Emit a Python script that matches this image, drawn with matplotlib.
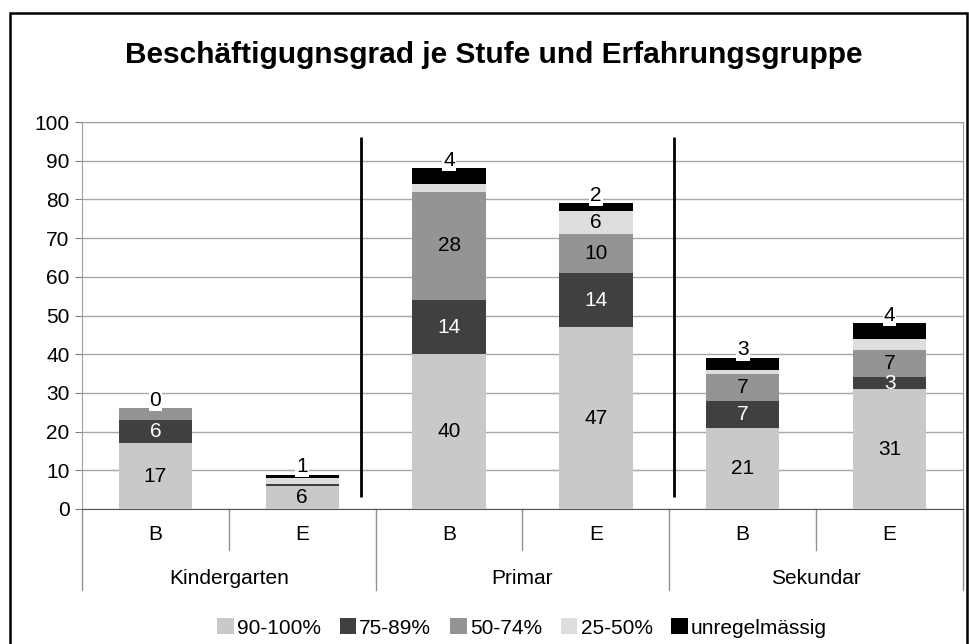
import matplotlib
matplotlib.use("Agg")
import matplotlib.pyplot as plt
import matplotlib.transforms as mtransforms
from matplotlib.patches import Rectangle
import numpy as np

plt.rcParams['font.family'] = ['Liberation Sans', 'DejaVu Sans']

# Daten
stufen = ['Kindergarten', 'Primar', 'Sekundar']
gruppen = ['B', 'E', 'B', 'E', 'B', 'E']
serien = ['90-100%', '75-89%', '50-74%', '25-50%', 'unregelmässig']
s_90_100 = [17, 6, 40, 47, 21, 31]
s_75_89 = [6, 0.4, 14, 14, 7, 3]
s_50_74 = [3, 0, 28, 10, 7, 7]
s_25_50 = [0, 1.6, 2, 6, 1, 3]
s_unreg = [0, 0.8, 4, 2, 3, 4]
farben = ['#c9c9c9', '#404040', '#949494', '#dedede', '#000000']
textfarben = ['black', 'white', 'black', 'black', 'black']
# ab welchem Wert eine Beschriftung im Segment steht
schwellen = [3, 3, 5, 5, 0]

werte = [s_90_100, s_75_89, s_50_74, s_25_50, s_unreg]
fs = 15

fig = plt.figure(figsize=(9.69, 6.44), dpi=100)
ax = fig.add_axes([82/969, (644-509)/644, (963-82)/969, (509-122)/644])

x = np.arange(len(gruppen))
unten = np.zeros(len(gruppen))
for i, (name, w) in enumerate(zip(serien, werte)):
    w = np.array(w, dtype=float)
    ax.bar(x, w, 0.5, bottom=unten, color=farben[i], label=name, zorder=3)
    for xi, b, v in zip(x, unten, w):
        if i == len(serien) - 1:
            # Oberste Beschriftung über dem Balken
            ax.annotate(f"{v:.0f}", (xi, b + v), xytext=(0, -1), textcoords='offset points',
                        ha='center', va='bottom', fontsize=fs, zorder=5,
                        bbox=dict(boxstyle='square,pad=0.05', fc='white', ec='none'))
        elif v >= schwellen[i]:
            ax.text(xi, b + v / 2, f"{v:.0f}", ha='center', va='center',
                    fontsize=fs, color=textfarben[i], zorder=4)
    unten += w

# Trennlinien zwischen den Stufen
ax.vlines([1.4, 3.53], 3, 96, color='black', lw=2, zorder=4)

ax.set_xlim(-0.5, 5.5)
ax.set_ylim(0, 100)
ax.set_yticks(range(0, 101, 10))
ax.tick_params(axis='y', labelsize=fs, length=5, color='#808080', pad=4)
ax.yaxis.grid(True, color='#a8a8a8', lw=1, zorder=0)
ax.set_xticks([])
for s in ['left', 'right', 'top']:
    ax.spines[s].set_color('#a0a0a0')
ax.spines['bottom'].set_color('#555555')

# Kategorienachse mit zwei Ebenen
trans = mtransforms.blended_transform_factory(ax.transData, ax.transAxes)
h = 509 - 122
for xi, g in zip(x, gruppen):
    ax.text(xi, -26/h, g, transform=trans, ha='center', va='center', fontsize=fs)
for k, st in enumerate(stufen):
    ax.text(2*k + 0.5, -69/h, st, transform=trans, ha='center', va='center', fontsize=fs)
for xs in [0.5, 2.5, 4.5]:
    ax.plot([xs, xs], [0, -41/h], transform=trans, color='#909090', lw=1, clip_on=False)
for xs in [-0.5, 1.5, 3.5, 5.5]:
    ax.plot([xs, xs], [0, -81/h], transform=trans, color='#909090', lw=1, clip_on=False)

fig.text(494/969, 1 - 55/644, 'Beschäftigugnsgrad je Stufe und Erfahrungsgruppe',
         ha='center', va='center', fontsize=21.5, fontweight='bold')

fig.legend(loc='center', bbox_to_anchor=(522/969, 1 - 628/644), ncol=5, frameon=False,
           fontsize=fs, handlelength=0.8, handleheight=0.8, handletextpad=0.15,
           columnspacing=0.9)

fig.patches.append(Rectangle((10/969, -0.05), 957/969, 1 - 13/644 + 0.05,
                             transform=fig.transFigure, fill=False, ec='black', lw=1.8))

fig.savefig('out.png', dpi=100)
